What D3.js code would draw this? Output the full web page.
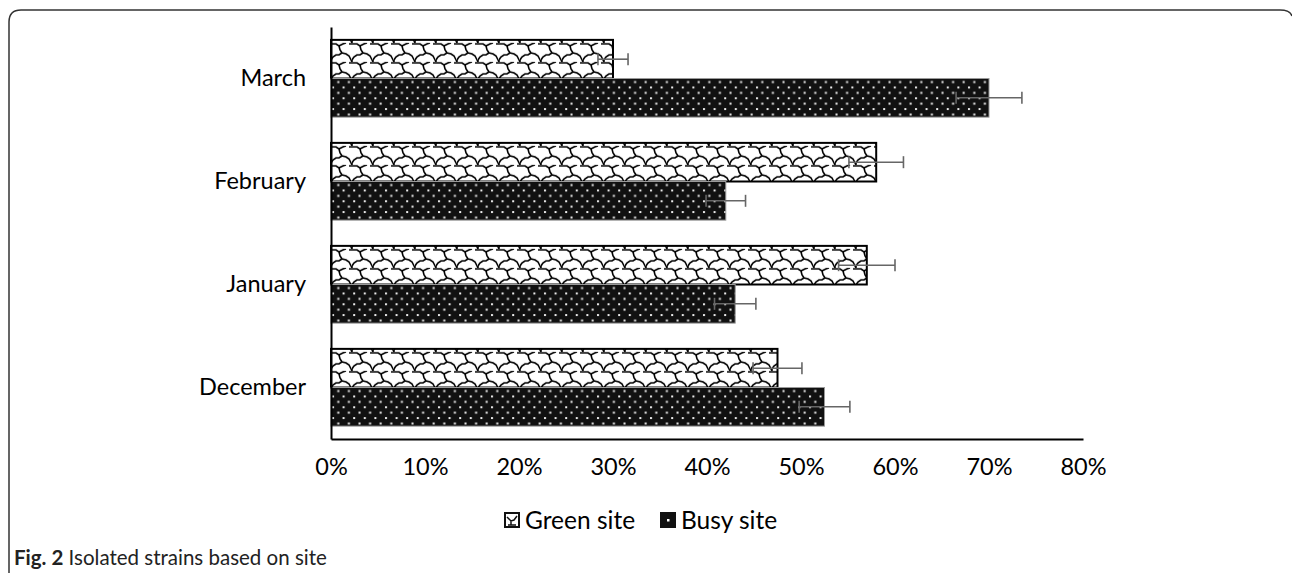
<!DOCTYPE html>
<html>
<head>
<meta charset="utf-8">
<script src="https://cdn.jsdelivr.net/npm/d3@7"></script>
<style>
  body { margin: 0; background: #fff; }
  svg { display: block; font-family: Lato, "Open Sans", sans-serif; }
</style>
</head>
<body>
<div id="chart"></div>
<script>
const months = ["March", "February", "January", "December"];
const series = ["Green site", "Busy site"];
const greenValues = [0.30, 0.58, 0.57, 0.475];
const busyValues = [0.70, 0.42, 0.43, 0.525];
const greenErrors = [0.016, 0.029, 0.030, 0.026];
const busyErrors = [0.035, 0.021, 0.022, 0.027];
const xTicks = [0, 0.1, 0.2, 0.3, 0.4, 0.5, 0.6, 0.7, 0.8];

const width = 1292, height = 573;
const margin = { top: 27, right: 209, bottom: 134, left: 331 };

const svg = d3.select("#chart").append("svg")
    .attr("width", width)
    .attr("height", height);

// patterns
const defs = svg.append("defs");
const wave = defs.append("pattern")
    .attr("id", "wave")
    .attr("patternUnits", "userSpaceOnUse")
    .attr("width", 21).attr("height", 19)
    .attr("x", 331).attr("y", 41);
wave.append("rect").attr("width", 21).attr("height", 19).attr("fill", "#fff");
wave.append("path")
    .attr("d", "M0,1 L5,1 L8,3 L9,7 L11,10 L15,11 L18,13 L20,17 L21,19 M8,3 L12,1 L15,0 M11,10 L8,12 L5,12 L2,14 L0,17 M21,1 L18,1 M0,19 L0,17")
    .attr("fill", "none")
    .attr("stroke", "#000")
    .attr("stroke-width", 1.6);

const dots = defs.append("pattern")
    .attr("id", "dots")
    .attr("patternUnits", "userSpaceOnUse")
    .attr("width", 10.6).attr("height", 10.8)
    .attr("x", 331).attr("y", 78);
dots.append("rect").attr("width", 10.6).attr("height", 10.8).attr("fill", "#111");
dots.append("rect").attr("x", 1).attr("y", 1).attr("width", 2).attr("height", 2).attr("fill", "#eee");
dots.append("rect").attr("x", 6.3).attr("y", 6.4).attr("width", 2).attr("height", 2).attr("fill", "#eee");

// frame
svg.append("path")
    .attr("d", "M9,573 L9,22 Q9,10 21,10 L1280,10 Q1290,10 1292,16")
    .attr("fill", "none")
    .attr("stroke", "#333")
    .attr("stroke-width", 1.5);

const x = d3.scaleLinear()
    .domain([0, 0.8])
    .range([margin.left, width - margin.right]);

const y = d3.scaleBand()
    .domain(months)
    .range([margin.top, height - margin.bottom])
    .paddingInner(0.25)
    .paddingOuter(0.125);

const ySub = d3.scaleBand()
    .domain(series)
    .range([0, y.bandwidth()]);

const rows = months.map((m, i) => ({
    month: m,
    values: [
        { key: "Green site", value: greenValues[i], err: greenErrors[i] },
        { key: "Busy site", value: busyValues[i], err: busyErrors[i] }
    ]
}));

const groups = svg.selectAll(".group")
    .data(rows)
    .join("g")
    .attr("class", "group")
    .attr("transform", d => `translate(0,${y(d.month)})`);

groups.selectAll(".bar")
    .data(d => d.values)
    .join("rect")
    .attr("class", "bar")
    .attr("x", x(0))
    .attr("y", d => ySub(d.key))
    .attr("width", d => x(d.value) - x(0))
    .attr("height", ySub.bandwidth())
    .attr("fill", d => d.key === "Green site" ? "url(#wave)" : "url(#dots)")
    .attr("stroke", d => d.key === "Green site" ? "#000" : "#999")
    .attr("stroke-width", d => d.key === "Green site" ? 2 : 1);

// error bars
const err = groups.selectAll(".err")
    .data(d => d.values)
    .join("g")
    .attr("class", "err")
    .attr("stroke", "#666")
    .attr("stroke-width", 1.6);
err.append("line")
    .attr("x1", d => x(d.value - d.err))
    .attr("x2", d => x(d.value + d.err))
    .attr("y1", d => ySub(d.key) + ySub.bandwidth() / 2)
    .attr("y2", d => ySub(d.key) + ySub.bandwidth() / 2);
[d => d.value - d.err, d => d.value + d.err].forEach(fn => {
    err.append("line")
        .attr("x1", d => x(fn(d)))
        .attr("x2", d => x(fn(d)))
        .attr("y1", d => ySub(d.key) + ySub.bandwidth() / 2 - 6)
        .attr("y2", d => ySub(d.key) + ySub.bandwidth() / 2 + 6);
});

// axes
const xAxis = svg.append("g")
    .attr("transform", `translate(0,${height - margin.bottom})`)
    .call(d3.axisBottom(x).tickValues(xTicks).tickFormat(d3.format(".0%")).tickSize(0).tickPadding(19));
xAxis.select(".domain").attr("stroke", "#000").attr("stroke-width", 2);
xAxis.selectAll("text").attr("font-size", 23.5).attr("fill", "#000").attr("font-family", "Lato, sans-serif");

const yAxis = svg.append("g")
    .attr("transform", `translate(${margin.left},0)`)
    .call(d3.axisLeft(y).tickSize(0).tickPadding(25));
yAxis.select(".domain").attr("stroke", "#000").attr("stroke-width", 2);
yAxis.selectAll("text").attr("font-size", 23.5).attr("fill", "#000").attr("font-family", "Lato, sans-serif");

// legend
const legend = svg.append("g").attr("transform", "translate(0,520)");
const legendItems = [
    { key: "Green site", x: 505 },
    { key: "Busy site", x: 661 }
];
legendItems.forEach(it => {
    legend.append("rect")
        .attr("x", it.x).attr("y", -7)
        .attr("width", 14).attr("height", 14)
        .attr("fill", it.key === "Green site" ? "#fff" : "#111")
        .attr("stroke", "#111").attr("stroke-width", 2);
    if (it.key === "Green site") {
        legend.append("path")
            .attr("d", `M${it.x + 2},-3 L${it.x + 6},1 L${it.x + 9},0 L${it.x + 12},-4 M${it.x + 3},5 L${it.x + 11},5 M${it.x + 6},1 L${it.x + 6},5`)
            .attr("fill", "none").attr("stroke", "#111").attr("stroke-width", 1.5);
    } else {
        legend.append("rect").attr("x", it.x + 6).attr("y", -1).attr("width", 2.5).attr("height", 2.5).attr("fill", "#fff");
    }
    legend.append("text")
        .attr("x", it.x + 20)
        .attr("y", 0)
        .attr("dy", "0.35em")
        .attr("font-size", 24.5)
        .text(it.key);
});

// caption
const caption = svg.append("text")
    .attr("x", 14)
    .attr("y", 565)
    .attr("font-size", 20.5)
    .attr("fill", "#222");
caption.append("tspan").attr("font-weight", "bold").text("Fig. 2");
caption.append("tspan").text(" Isolated strains based on site");
</script>
</body>
</html>
